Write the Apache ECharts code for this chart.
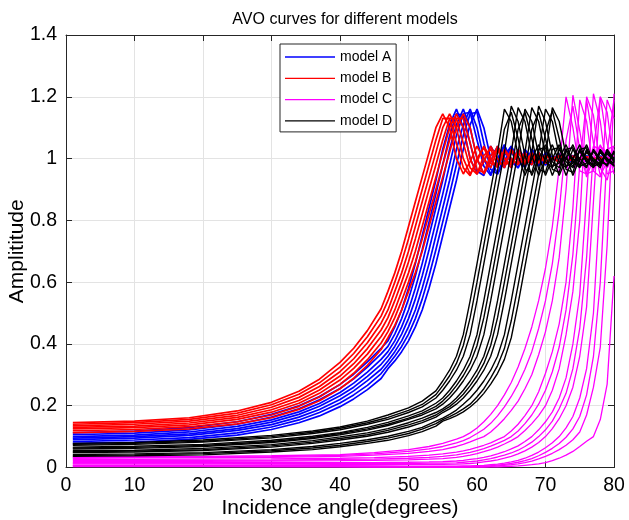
<!DOCTYPE html>
<html><head><meta charset="utf-8">
<script src="https://cdn.jsdelivr.net/npm/echarts@6/dist/echarts.min.js"></script>
<style>html,body{margin:0;padding:0;background:#fff}#chart{width:629px;height:520px}</style>
</head><body><div id="chart"></div>
<script>
// ---------- data ----------
const titleText = 'AVO curves for different models';
const xName = 'Incidence angle(degrees)';
const yName = 'Amplititude';
const legendNames = ['model A', 'model B', 'model C', 'model D'];
const xTicks = [0, 10, 20, 30, 40, 50, 60, 70, 80];
const yTicks = [0, 0.2, 0.4, 0.6, 0.8, 1, 1.2, 1.4];

// incidence angles (degrees) for models A and B
const anglesAB = [1,10,18,25,30,34,37,40,42,44,46,47,48,49,50,51,52,53,54,55,56,57,58,59,60,61,62,63,64,65,66,67,68,69,70,72,74,76,78,80];

const modelA1 = [.112,.118,.129,.148,.172,.200,.230,.269,.302,.342,.386,.410,.455,.510,.580,.660,.750,.840,.930,1.030,1.110,1.160,1.100,1.000,.950,.990,1.040,1.000,.970,1.030,1.000,.980,1.020,.990,1.010,.990,1.008,.995,1.004,1.000];
const modelA2 = [.106,.111,.122,.140,.163,.190,.219,.256,.287,.325,.368,.392,.432,.482,.545,.620,.705,.795,.885,.980,1.075,1.145,1.140,1.050,.960,.945,1.010,1.035,.975,1.020,.990,1.015,.985,1.010,.990,1.012,.990,1.006,.995,1.003];
const modelA3 = [.100,.105,.115,.133,.154,.180,.207,.243,.273,.309,.350,.375,.410,.455,.510,.580,.660,.750,.840,.930,1.030,1.110,1.160,1.100,1.000,.950,.990,1.040,1.000,.970,1.030,1.000,.980,1.020,.990,1.010,.990,1.008,.995,1.002];
const modelA4 = [.095,.100,.109,.126,.147,.172,.198,.232,.260,.295,.334,.360,.392,.432,.482,.545,.620,.705,.795,.885,.980,1.075,1.145,1.150,1.060,.975,.945,1.000,1.045,.990,.970,1.025,1.005,.975,1.015,.992,1.008,.993,1.005,.998];
const modelA5 = [.090,.095,.104,.120,.139,.163,.188,.220,.248,.281,.318,.345,.375,.410,.455,.510,.580,.660,.750,.840,.930,1.030,1.110,1.160,1.100,1.000,.950,.990,1.040,1.000,.970,1.030,1.000,.980,1.020,.990,1.010,.990,1.008,1.000];
const modelA6 = [.084,.089,.097,.112,.131,.154,.178,.209,.235,.266,.304,.332,.360,.392,.432,.482,.545,.620,.705,.795,.885,.980,1.075,1.145,1.150,1.050,.965,.950,1.010,1.040,.985,.975,1.030,.995,.980,1.012,.990,1.006,.996,1.003];
const modelA7 = [.078,.082,.091,.105,.123,.145,.167,.197,.222,.252,.288,.320,.345,.375,.410,.455,.510,.580,.660,.750,.840,.930,1.030,1.110,1.160,1.100,1.000,.950,.990,1.040,1.000,.970,1.030,1.000,.980,1.015,.990,1.008,.995,1.002];

const modelB1 = [.145,.150,.161,.183,.211,.247,.286,.340,.386,.443,.514,.570,.630,.700,.780,.860,.940,1.020,1.100,1.145,1.100,1.000,.950,.990,1.040,1.000,.970,1.030,1.000,.980,1.020,.990,1.010,.985,1.010,.990,1.006,.996,1.003,1.000];
const modelB2 = [.140,.145,.156,.176,.203,.237,.274,.325,.369,.423,.490,.540,.600,.665,.740,.820,.900,.980,1.060,1.130,1.130,1.050,.970,.945,1.000,1.035,.985,.975,1.025,.990,.985,1.015,.992,1.008,.990,1.008,.994,1.004,.997,1.001];
const modelB3 = [.135,.140,.150,.169,.195,.227,.262,.310,.352,.404,.467,.510,.570,.630,.700,.780,.860,.940,1.020,1.100,1.145,1.100,1.000,.950,.990,1.040,1.000,.970,1.030,1.000,.980,1.020,.990,1.010,.985,1.010,.992,1.005,.997,1.000];
const modelB4 = [.130,.134,.144,.162,.187,.217,.251,.296,.336,.385,.445,.485,.540,.600,.665,.740,.820,.900,.980,1.060,1.130,1.130,1.050,.970,.950,1.010,1.030,.980,.985,1.025,.990,.990,1.015,.990,1.005,.993,1.006,.996,1.003,.999];
const modelB5 = [.125,.129,.138,.156,.179,.208,.240,.283,.321,.367,.424,.460,.510,.570,.630,.700,.780,.860,.940,1.020,1.100,1.145,1.100,1.000,.950,.990,1.040,1.000,.970,1.030,1.000,.980,1.020,.990,1.010,.990,1.008,.995,1.004,1.000];
const modelB6 = [.119,.123,.132,.148,.170,.198,.228,.269,.305,.349,.403,.440,.485,.540,.600,.665,.740,.820,.900,.980,1.060,1.130,1.130,1.050,.965,.955,1.010,1.030,.980,.990,1.020,.985,1.000,1.012,.990,1.006,.995,1.004,.998,1.000];
const modelB7 = [.113,.117,.125,.141,.161,.188,.216,.255,.289,.331,.382,.420,.460,.510,.570,.630,.700,.780,.860,.940,1.020,1.100,1.145,1.100,1.000,.950,.990,1.040,1.000,.970,1.030,1.000,.980,1.020,.990,1.010,.992,1.005,.997,1.001];

// incidence angles (degrees) for model C
const anglesC = [1,10,20,30,40,45,50,53,55,57,58,59,60,61,62,63,64,65,66,67,68,69,70,71,72,73,74,75,76,77,78,79,80];

const modelC1 = [.034,.035,.036,.038,.042,.048,.058,.068,.078,.092,.100,.112,.128,.148,.172,.200,.235,.275,.325,.385,.455,.540,.645,.780,.970,1.200,1.100,.960,.950,1.040,1.030,.970,1.010];
const modelC2 = [.032,.033,.034,.035,.039,.044,.052,.060,.068,.080,.087,.097,.110,.124,.143,.167,.196,.230,.270,.318,.375,.450,.540,.660,.830,1.060,1.170,1.030,.940,1.000,1.045,.990,.975];
const modelC3 = [.030,.031,.032,.033,.036,.040,.046,.052,.058,.068,.075,.083,.092,.100,.115,.135,.158,.185,.215,.255,.300,.365,.440,.540,.680,.900,1.205,1.090,.950,.960,1.040,1.020,.970];
const modelC4 = [.026,.026,.027,.028,.030,.032,.036,.040,.044,.050,.054,.059,.065,.072,.080,.090,.100,.118,.140,.168,.200,.245,.305,.375,.465,.600,.840,1.190,1.120,.960,.940,1.030,1.040];
const modelC5 = [.023,.023,.023,.024,.026,.027,.030,.033,.036,.041,.045,.049,.055,.061,.069,.078,.088,.100,.118,.142,.170,.205,.250,.310,.390,.510,.690,.980,1.190,1.050,.945,.990,1.040];
const modelC6 = [.020,.020,.020,.021,.022,.023,.025,.027,.029,.033,.036,.040,.045,.051,.058,.066,.076,.087,.100,.120,.142,.168,.200,.250,.320,.430,.570,.800,1.200,1.140,.970,.930,1.030];
const modelC7 = [.016,.016,.016,.016,.016,.016,.017,.018,.019,.021,.023,.026,.029,.033,.038,.044,.051,.060,.070,.084,.100,.122,.148,.180,.225,.290,.400,.560,.880,1.210,1.120,.950,.960];
const modelC8 = [.014,.014,.014,.013,.013,.013,.013,.014,.014,.015,.017,.019,.021,.025,.029,.034,.040,.047,.056,.068,.082,.100,.122,.150,.190,.240,.320,.450,.680,1.030,1.200,1.050,.950];
const modelC9 = [.012,.012,.012,.011,.010,.010,.010,.010,.010,.011,.012,.013,.015,.018,.021,.025,.030,.036,.044,.054,.066,.081,.100,.126,.158,.200,.260,.360,.520,.860,1.200,1.150,.980];
const modelC10 = [.008,.008,.008,.007,.006,.005,.004,.004,.004,.004,.005,.005,.006,.007,.009,.011,.014,.018,.023,.030,.039,.050,.064,.080,.100,.128,.165,.225,.320,.500,.880,1.190,1.130];
const modelC11 = [.006,.006,.006,.006,.005,.004,.003,.003,.002,.002,.003,.003,.004,.005,.006,.008,.010,.013,.017,.022,.029,.038,.049,.062,.078,.098,.125,.165,.235,.360,.600,1.020,1.190];
const modelC12 = [.005,.005,.005,.004,.003,.002,.002,.001,.001,.001,.001,.002,.002,.003,.004,.005,.007,.009,.012,.016,.021,.028,.036,.046,.058,.072,.090,.115,.170,.260,.390,.720,1.210];
const modelC13 = [.003,.003,.003,.002,.002,.001,.001,.001,.001,.001,.001,.001,.001,.001,.002,.002,.003,.004,.005,.007,.009,.012,.016,.022,.030,.040,.052,.068,.085,.100,.155,.270,.620];

// incidence angles (degrees) for model D
const anglesD = [1,10,20,30,36,40,44,47,50,52,54,55,56,57,58,59,60,61,62,63,64,65,66,67,68,69,70,71,72,73,74,75,76,77,78,79,80];

const modelD1 = [.078,.081,.089,.104,.118,.131,.150,.170,.193,.215,.248,.280,.315,.360,.430,.540,.660,.780,.900,1.020,1.160,1.120,1.010,.945,1.000,1.045,.990,.970,1.030,1.000,.975,1.025,.990,.980,1.020,1.000,.985];
const modelD2 = [.075,.078,.085,.100,.114,.127,.145,.162,.185,.204,.236,.265,.297,.337,.395,.485,.600,.720,.840,.960,1.095,1.150,1.065,.965,.955,1.030,1.035,.975,.985,1.025,.990,.980,1.020,.995,.985,1.015,.995];
const modelD3 = [.072,.075,.082,.096,.110,.122,.140,.156,.178,.196,.225,.250,.280,.315,.360,.430,.540,.660,.780,.900,1.020,1.170,1.120,1.010,.945,1.000,1.045,.990,.970,1.030,1.000,.975,1.025,.990,.980,1.020,1.000];
const modelD4 = [.066,.069,.075,.088,.101,.113,.130,.146,.167,.183,.208,.225,.250,.280,.315,.360,.430,.540,.660,.780,.900,1.020,1.165,1.120,1.010,.945,1.000,1.045,.990,.970,1.030,1.000,.975,1.025,.990,.980,1.020];
const modelD5 = [.063,.065,.071,.084,.097,.110,.125,.140,.160,.176,.198,.215,.237,.265,.297,.337,.395,.485,.600,.720,.840,.960,1.095,1.150,1.065,.965,.955,1.030,1.035,.975,.985,1.025,.990,.980,1.020,.995,.985];
const modelD6 = [.060,.062,.068,.081,.094,.106,.121,.136,.156,.170,.190,.205,.225,.250,.280,.315,.360,.430,.540,.660,.780,.900,1.020,1.160,1.120,1.010,.945,1.000,1.045,.990,.970,1.030,1.000,.975,1.025,.990,.980];
const modelD7 = [.054,.056,.062,.074,.087,.099,.112,.126,.145,.160,.178,.190,.205,.225,.250,.280,.315,.360,.430,.540,.660,.780,.900,1.020,1.165,1.120,1.010,.945,1.000,1.045,.990,.970,1.030,1.000,.975,1.025,.990];
const modelD8 = [.051,.053,.058,.070,.082,.094,.106,.120,.138,.152,.170,.184,.197,.215,.237,.265,.297,.337,.395,.485,.600,.720,.840,.960,1.095,1.150,1.065,.965,.955,1.030,1.035,.975,.985,1.025,.990,.980,1.020];
const modelD9 = [.048,.050,.055,.066,.078,.089,.101,.114,.131,.145,.163,.178,.190,.205,.225,.250,.280,.315,.360,.430,.540,.660,.780,.900,1.020,1.170,1.120,1.010,.945,1.000,1.045,.990,.970,1.030,1.000,.975,1.025];
const modelD10 = [.042,.044,.048,.058,.068,.078,.090,.101,.117,.130,.150,.160,.172,.186,.205,.225,.250,.280,.315,.360,.430,.540,.660,.780,.900,1.020,1.160,1.120,1.010,.945,1.000,1.045,.990,.970,1.030,1.000,.975];
const modelD11 = [.039,.041,.045,.054,.063,.072,.084,.095,.110,.124,.142,.155,.165,.176,.190,.205,.228,.255,.290,.330,.385,.475,.590,.710,.830,.950,1.085,1.155,1.065,.965,.955,1.030,1.035,.975,.985,1.025,.990];
const modelD12 = [.036,.038,.041,.050,.058,.067,.078,.088,.103,.116,.134,.150,.158,.168,.180,.196,.215,.240,.270,.305,.350,.420,.530,.650,.770,.890,1.010,1.165,1.120,1.010,.945,1.000,1.045,.990,.970,1.030,1.000];

const curvesA = [modelA1, modelA2, modelA3, modelA4, modelA5, modelA6, modelA7];
const curvesB = [modelB1, modelB2, modelB3, modelB4, modelB5, modelB6, modelB7];
const curvesC = [modelC1, modelC2, modelC3, modelC4, modelC5, modelC6, modelC7, modelC8, modelC9, modelC10, modelC11, modelC12, modelC13];
const curvesD = [modelD1, modelD2, modelD3, modelD4, modelD5, modelD6, modelD7, modelD8, modelD9, modelD10, modelD11, modelD12];

// ---------- chart ----------
const FONT = 'Liberation Sans, Arial, Helvetica, sans-serif';
const AXIS_COLOR = '#262626';
const GRID_COLOR = '#e3e3e3';

function makeSeries(name, color, width, angles, curves) {
  return curves.map(vals => ({
    type: 'line',
    name: name,
    data: angles.map((a, i) => [a, vals[i]]),
    showSymbol: false,
    symbol: 'none',
    smooth: false,
    silent: true,
    animation: false,
    color: color,
    itemStyle: { color: color },
    lineStyle: { color: color, width: width }
  }));
}

const series = [].concat(
  makeSeries(legendNames[0], '#0000ff', 1.7, anglesAB, curvesA),
  makeSeries(legendNames[1], '#ff0000', 1.7, anglesAB, curvesB),
  makeSeries(legendNames[2], '#ff00ff', 1.3, anglesC, curvesC),
  makeSeries(legendNames[3], '#000000', 1.4, anglesD, curvesD)
);

const chart = echarts.init(document.getElementById('chart'), null, { renderer: 'canvas' });
chart.setOption({
  animation: false,
  backgroundColor: '#ffffff',
  textStyle: { fontFamily: FONT },
  title: {
    text: titleText,
    left: 340,
    top: 7,
    textAlign: 'center',
    textStyle: { fontFamily: FONT, fontSize: 16, fontWeight: 'normal', color: '#000' }
  },
  legend: {
    data: legendNames,
    orient: 'vertical',
    left: 280,
    top: 44,
    icon: 'rect',
    itemWidth: 50,
    itemHeight: 1.3,
    itemGap: 7.3,
    padding: [6, 4, 4, 5],
    backgroundColor: '#ffffff',
    borderColor: AXIS_COLOR,
    borderWidth: 1,
    borderRadius: 0,
    selectedMode: false,
    textStyle: { fontFamily: FONT, fontSize: 14, color: '#000', lineHeight: 14 },
    z: 10
  },
  grid: { left: 66, right: 15, top: 35, bottom: 52.5, containLabel: false, outerBoundsMode: 'none' },
  xAxis: [
    {
      type: 'value', min: xTicks[0], max: xTicks[xTicks.length - 1], interval: 10,
      position: 'bottom',
      name: xName, nameLocation: 'middle', nameGap: 30, nameMoveOverlap: false,
      nameTextStyle: { fontFamily: FONT, fontSize: 21, color: '#000' },
      axisLine: { show: true, onZero: false, lineStyle: { color: AXIS_COLOR, width: 1 } },
      axisTick: { show: true, inside: true, length: 6, lineStyle: { color: AXIS_COLOR } },
      axisLabel: { fontFamily: FONT, fontSize: 19.5, color: '#000', margin: 8 },
      splitLine: { show: true, lineStyle: { color: GRID_COLOR, width: 1 } }
    },
    {
      type: 'value', min: xTicks[0], max: xTicks[xTicks.length - 1], interval: 10,
      position: 'top',
      axisLine: { show: true, onZero: false, lineStyle: { color: AXIS_COLOR, width: 1 } },
      axisTick: { show: true, inside: true, length: 6, lineStyle: { color: AXIS_COLOR } },
      axisLabel: { show: false },
      splitLine: { show: false }
    }
  ],
  yAxis: [
    {
      type: 'value', min: yTicks[0], max: yTicks[yTicks.length - 1], interval: 0.2,
      position: 'left',
      name: yName, nameLocation: 'middle', nameGap: 38, nameMoveOverlap: false,
      nameTextStyle: { fontFamily: FONT, fontSize: 21, color: '#000' },
      axisLine: { show: true, onZero: false, lineStyle: { color: AXIS_COLOR, width: 1 } },
      axisTick: { show: true, inside: true, length: 6, lineStyle: { color: AXIS_COLOR } },
      axisLabel: { fontFamily: FONT, fontSize: 19.5, color: '#000', margin: 9 },
      splitLine: { show: true, lineStyle: { color: GRID_COLOR, width: 1 } }
    },
    {
      type: 'value', min: yTicks[0], max: yTicks[yTicks.length - 1], interval: 0.2,
      position: 'right',
      axisLine: { show: true, onZero: false, lineStyle: { color: AXIS_COLOR, width: 1 } },
      axisTick: { show: true, inside: true, length: 6, lineStyle: { color: AXIS_COLOR } },
      axisLabel: { show: false },
      splitLine: { show: false }
    }
  ],
  series: series
});
</script></body></html>
